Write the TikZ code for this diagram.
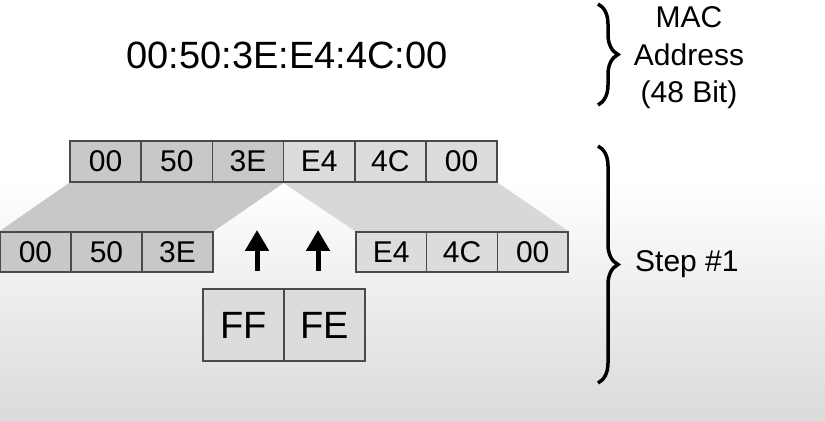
\documentclass[tikz,border=0pt]{standalone}
\usepackage{fontspec}
\setmainfont{Liberation Sans}
\usetikzlibrary{arrows.meta,decorations.pathreplacing}
\definecolor{boxdark}{HTML}{C8C8C8}
\definecolor{boxlight}{HTML}{DCDCDC}
\definecolor{trapdark}{HTML}{C8C8C8}
\definecolor{traplight}{HTML}{D8D8D8}
\definecolor{bgbottom}{HTML}{DADADA}
\definecolor{edge}{HTML}{4A4A4A}
\tikzset{
  cell/.style={draw=edge, line width=1.3pt, minimum height=41pt, minimum width=71pt, inner sep=0pt, font=\fontsize{30}{32}\selectfont},
  darkcell/.style={cell, fill=boxdark},
  lightcell/.style={cell, fill=boxlight},
  bigcell/.style={draw=edge, line width=1.3pt, fill=boxlight, minimum height=72pt, minimum width=81pt, inner sep=0pt, font=\fontsize{38}{40}\selectfont},
  upar/.style={line width=5pt, -{Triangle[width=23pt,length=21pt]}},
  bracestyle/.style={decorate, decoration={brace, amplitude=20pt}, line width=3.5pt},
  lbl/.style={font=\fontsize{30}{37.5}\selectfont, align=center, inner sep=0pt}
}
\begin{document}
\begin{tikzpicture}[x=1pt,y=-1pt]
\useasboundingbox (0,0) rectangle (825,422);
% background
\fill[white] (0,0) rectangle (825,181);
\shade[top color=white, bottom color=bgbottom] (0,180) rectangle (825,422);
% title
\node[font=\fontsize{38}{40}\selectfont, inner sep=0pt] (mac) at (287,55) {00:50:3E:E4:4C:00};
% top row
\node[darkcell] (t1) at (105.6,161.5) {00};
\node[darkcell] (t2) at (176.8,161.5) {50};
\node[darkcell] (t3) at (248,161.5) {3E};
\node[lightcell] (t4) at (319.2,161.5) {E4};
\node[lightcell] (t5) at (390.4,161.5) {4C};
\node[lightcell] (t6) at (461.6,161.5) {00};
% bottom rows
\node[darkcell, minimum height=40pt] (b1) at (35.5,252) {00};
\node[darkcell, minimum height=40pt] (b2) at (106.5,252) {50};
\node[darkcell, minimum height=40pt] (b3) at (177.5,252) {3E};
\node[lightcell, minimum height=40pt, minimum width=70.7pt] (b4) at (391.3,252) {E4};
\node[lightcell, minimum height=40pt, minimum width=70.7pt] (b5) at (462,252) {4C};
\node[lightcell, minimum height=40pt, minimum width=70.7pt] (b6) at (532.7,252) {00};
% shaded trapezoids
\fill[trapdark] (t1.south west) -- (t3.south east) -- (b3.north east) -- (b1.north west) -- cycle;
\fill[traplight] (t4.south west) -- (t6.south east) -- (b6.north east) -- (b4.north west) -- cycle;
% redraw cells over trapezoid edges
\foreach \n/\s in {t1/00,t2/50,t3/3E}{\node[darkcell] at (\n) {\s};}
\foreach \n/\s in {t4/E4,t5/4C,t6/00}{\node[lightcell] at (\n) {\s};}
\foreach \n/\s in {b1/00,b2/50,b3/3E}{\node[darkcell, minimum height=40pt] at (\n) {\s};}
\foreach \n/\s in {b4/E4,b5/4C,b6/00}{\node[lightcell, minimum height=40pt, minimum width=70.7pt] at (\n) {\s};}
% FF FE
\node[bigcell] (ff) at (243.5,325) {FF};
\node[bigcell] (fe) at (324.5,325) {FE};
% arrows
\coordinate (a1s) at (257,271);
\coordinate (a1e) at (257,230);
\coordinate (a2s) at (318,271);
\coordinate (a2e) at (318,230);
\draw[upar] (a1s) -- (a1e);
\draw[upar] (a2s) -- (a2e);
% braces
\coordinate (br1t) at (598,4);
\coordinate (br1b) at (598,105);
\coordinate (br2t) at (598,146);
\coordinate (br2b) at (598,383);
\draw[bracestyle] (br1t) -- (br1b);
\draw[bracestyle] (br2t) -- (br2b);
\node[lbl] (maclbl) at (689,58) {MAC\\Address\\(48 Bit)};
\node[lbl, anchor=west] (step) at (635,264) {Step \#1};
\end{tikzpicture}
\end{document}
